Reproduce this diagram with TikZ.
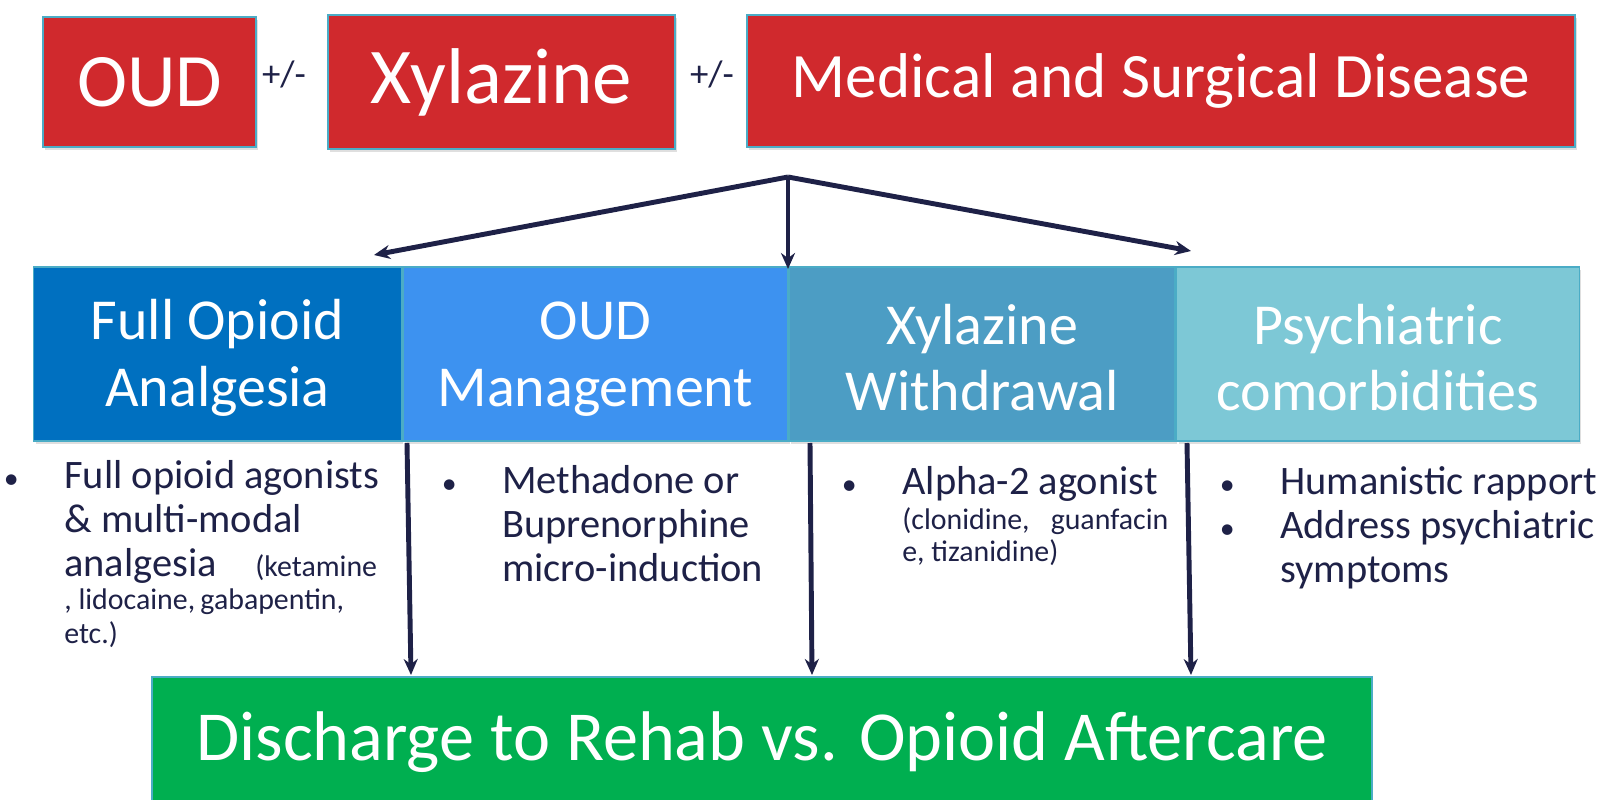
\documentclass[tikz,border=0pt]{standalone}
\usepackage{fontspec}
\setmainfont{Carlito}
\usetikzlibrary{shapes.geometric, arrows.meta, positioning, shadows}
\definecolor{mred}{HTML}{D0292D}
\definecolor{medge}{HTML}{4BACC6}
\definecolor{mblue}{HTML}{0070C0}
\definecolor{msky}{HTML}{3D92F0}
\definecolor{msteel}{HTML}{4C9DC4}
\definecolor{maqua}{HTML}{7DC8D6}
\definecolor{mgreen}{HTML}{00AF50}
\definecolor{mnavy}{HTML}{1E2147}
\tikzstyle{risk} = [rectangle, draw = medge, line width = 0.8pt, fill = mred, text = white, text centered, drop shadow = {opacity = 0.25, shadow xshift = 0.04cm, shadow yshift = -0.06cm}]
\tikzstyle{care} = [rectangle, minimum height = 3.48cm, draw = medge, line width = 0.8pt, text = white, align = center, font = \fontsize{33}{36}\selectfont, drop shadow = {opacity = 0.25, shadow xshift = 0.04cm, shadow yshift = -0.06cm}]
\tikzstyle{plan} = [anchor = north west, inner sep = 0pt, text = mnavy, align = left, font = \fontsize{23}{25}\selectfont]
\tikzstyle{plusminus} = [text = mnavy, font = \fontsize{21}{24}\selectfont]
\tikzstyle{link} = [line width = 2.8pt, -{Stealth[length = 0.32cm, width = 0.28cm]}, draw = mnavy]
\newcommand{\bul}{\llap{{\fontsize{17}{17}\selectfont\textbullet}\hspace{26pt}}}
\newcommand{\smalltxt}{\fontsize{17}{19}\selectfont}
\newcommand{\toprule}{\rule{0pt}{27pt}}

\begin{document}
\begin{tikzpicture}[x = 0.02cm, y = -0.02cm, node distance = 0pt]
\useasboundingbox[fill = white] (0,0) rectangle (1608,800);
% top row
\node (oud) [risk, minimum width = 4.26cm, minimum height = 2.6cm, font = \fontsize{43}{48}\selectfont] at (149.5,82) {OUD};
\node (xylazine) [risk, minimum width = 6.94cm, minimum height = 2.68cm, font = \fontsize{45}{50}\selectfont] at (501.5,82) {Xylazine};
\node (disease) [risk, minimum width = 16.56cm, minimum height = 2.64cm, font = \fontsize{36}{40}\selectfont] at (1161,81) {Medical and Surgical Disease};
\node (pm1) [plusminus] at (284,74) {+/-};
\node (pm2) [plusminus] at (712,74) {+/-};
% care boxes
\node (analgesia) [care, minimum width = 7.36cm, fill = mblue] at (217.5,354) {\toprule Full Opioid\\[2pt]Analgesia};
\node (oudmgmt) [care, minimum width = 7.70cm, fill = msky, right = of analgesia] {\toprule OUD\\[2pt]Management};
\node (withdrawal) [care, minimum width = 7.72cm, fill = msteel, right = of oudmgmt] {\toprule Xylazine\\[2pt]Withdrawal};
\node (psych) [care, minimum width = 8.06cm, fill = maqua, right = of withdrawal] {\toprule Psychiatric\\[2pt]comorbidities};
% bullet lists
\node (planA) [plan] at (64,460) {\bul Full opioid agonists\\
\& multi-modal\\
analgesia\hspace{22pt}{\smalltxt(ketamine}\\[-6pt]
{\smalltxt, lidocaine,\hspace{3pt}gabapentin,}\\[-6pt]
{\smalltxt etc.)}};
\node (planB) [plan] at (502,465) {\bul Methadone or\\
Buprenorphine\\
micro-induction};
\node (planC) [plan] at (902,466) {\bul Alpha-2 agonist\\[-5pt]
{\smalltxt(clonidine,\hspace{12pt}guanfacin}\\[-7pt]
{\smalltxt e, tizanidine)}};
\node (planD) [plan] at (1280,466) {\bul Humanistic rapport\\
\bul Address psychiatric\\
symptoms};
% discharge
\node (discharge) [rectangle, minimum width = 24.4cm, minimum height = 2.6cm, draw = medge, line width = 0.8pt, fill = mgreen, text = white, font = \fontsize{40}{44}\selectfont] at (762,742) {Discharge to Rehab vs. Opioid Aftercare};
% connectors
\coordinate (hub) at (788,177);
\coordinate (tipA) at (374,255);
\coordinate (tipB) at (788,269);
\coordinate (tipC) at (1191,251);
\coordinate (startA) at (407,443);
\coordinate (endA) at (411,675);
\coordinate (startB) at (810,443);
\coordinate (endB) at (812,675);
\coordinate (startC) at (1187,443);
\coordinate (endC) at (1191,675);
\draw [link] (hub) -- (tipA);
\draw [link] (hub) -- (tipB);
\draw [link] (hub) -- (tipC);
\draw [link] (startA) -- (endA);
\draw [link] (startB) -- (endB);
\draw [link] (startC) -- (endC);
\end{tikzpicture}
\end{document}
